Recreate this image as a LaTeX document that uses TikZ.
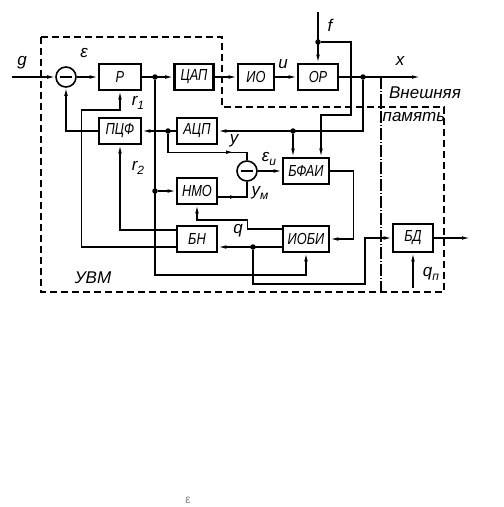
\documentclass[tikz,border=0pt]{standalone}
\usepackage{fontspec}
\setmainfont{Liberation Sans}
\newfontfamily\blockfont{Liberation Sans}[FakeStretch=0.8]
\usetikzlibrary{arrows.meta,decorations.markings}
\newcommand\subidx[1]{\raisebox{-4pt}{\fontsize{12}{12}\selectfont #1}}

\begin{document}
\begin{tikzpicture}[
  x=1pt, y=-1pt,
  >={Latex[length=8pt,width=3.6pt]},
  line width=1.2pt,
  every node/.style={font=\itshape\fontsize{17}{17}\selectfont},
  block/.style={draw, line width=2.6pt, minimum width=40pt, minimum height=26pt, inner sep=1pt,
    font=\blockfont\itshape\fontsize{16}{16}\selectfont},
  summer/.style={draw, circle, line width=1.6pt, minimum size=20pt, inner sep=0pt,
    path picture={\draw[line width=2.6pt] ([xshift=-6pt]path picture bounding box.center) -- ([xshift=6pt]path picture bounding box.center);}},
  junction/.style={circle, fill, inner sep=0pt, minimum size=5.5pt},
  uvmframe/.style={line width=1.3pt, dash pattern=on 7pt off 4pt},
  memline/.style={line width=1.1pt, dash pattern=on 12pt off 2pt on 1pt off 2pt},
  midarrow/.style={postaction={decorate}, decoration={markings, mark=at position #1 with {\arrow{>}}}},
  midarrow/.default=0.5
]
  \useasboundingbox (0,0) rectangle (504,507);

  % frames of the computer and the external memory
  \draw[uvmframe] (41,37) -- (222,37) -- (222,107) -- (444,107) -- (444,292) -- (41,292) -- cycle;
  \draw[memline] (381,77) -- (381,292);

  % blocks
  \node[summer] (c1) at (66,77) {};
  \node[block, minimum width=42pt] (p) at (120,77) {Р};
  \node[block, minimum width=39pt] (dac) at (194,77) {ЦАП};
  \node[block, minimum width=36pt] (io) at (256,77) {ИО};
  \node[block] (op) at (318,77) {ОР};
  \node[block, minimum width=42pt] (pcf) at (120,131) {ПЦФ};
  \node[block, minimum width=40pt] (adc) at (197,131) {АЦП};
  \node[summer] (c2) at (247,171) {};
  \node[block, minimum width=46pt] (bfai) at (306,171) {БФАИ};
  \node[block] (nmo) at (197,191) {НМО};
  \node[block] (bn) at (197,239) {БН};
  \node[block, minimum width=46pt] (iobi) at (306,239) {ИОБИ};
  \node[block, minimum height=28pt] (bd) at (413,238) {БД};

  % branch points and free ends
  \node[junction] (dp) at (155,77) {};
  \node[junction] (df) at (318,42) {};
  \node[junction] (dx) at (363,77) {};
  \node[junction] (dy) at (293,131) {};
  \node[junction] (da) at (168,131) {};
  \node[junction] (dn) at (155,191) {};
  \node[junction] (dq) at (253,247) {};
  \coordinate (gin) at (12,77);
  \coordinate (fin) at (318,12);
  \coordinate (xout) at (420,77);
  \coordinate (qin) at (413,288);
  \coordinate (bdout) at (470,238);

  % forward path
  \draw[->] (gin) -- (c1);
  \draw[->] (c1) -- (p);
  \draw[->] (p) -- (dac);
  \draw[->] (dac) -- (io);
  \draw[->] (io) -- (op);
  \draw[->] (fin) -- (op);
  \draw[->] (op) -- (xout);
  \draw[->] (df) -| ++(33,73) -| ([xshift=15pt]bfai.north);

  % measurement and identification
  \draw[->] (dx) |- (adc);
  \draw[->] (dy) -- (bfai.north -| dy);
  \draw[->] (adc) -- (pcf);
  \draw[->] (pcf) -| (c1);
  \draw[midarrow=0.8] (da) |- ([yshift=8pt]c2.north) -- (c2.north);
  \draw[->] (c2) -- (bfai);
  \draw[midarrow=0.45] ([yshift=-6pt]nmo.east) -| (c2.south);
  \draw[->] (dp) -- ++(0,198) -| (iobi.south);
  \draw[->] (dn) -- (nmo);
  \draw[->] ([yshift=10pt]iobi.west) -| ++(-34,-9) -| (nmo.south);
  \draw[->] ([yshift=-8pt]iobi.west) -- ([yshift=-8pt]bn.east);
  \draw[->] (bfai.east) -- ++(23,0) |- (iobi.east);

  % tuning of the controller and filter
  \draw[->] ([yshift=9pt]bn.west) -| (pcf.south);
  \draw[->] ([yshift=-8pt]bn.west) -| ++(-94,-137) -| (p.south);

  % data bank
  \draw[->] (dq) |- ++(112,37) |- (bd.west);
  \draw[->] (qin) -- (bd);
  \draw[->] (bd) -- (bdout);

  % labels
  \node (lg) at (22,63) {g};
  \node (leps) at (84,53) {ε};
  \node (lu) at (283,64) {u};
  \node (lf) at (330,25) {f};
  \node (lx) at (400,61) {x};
  \node (ly) at (234,141) {y};
  \node (lr1) at (138,103) {r\subidx{1}};
  \node (lr2) at (138,168) {r\subidx{2}};
  \node (lepsi) at (269,159) {ε\subidx{и}};
  \node (lym) at (260,193) {y\subidx{м}};
  \node (lq) at (238,231) {q};
  \node (lqn) at (431,274) {q\subidx{п}};
  \node (luvm) at (93,278) {УВМ};
  \node (lext1) at (425,93) {Внешняя};
  \node (lext2) at (414,117) {память};
  \node[font=\fontsize{12}{12}\selectfont, text=gray] (lmark) at (188,500) {ε};
\end{tikzpicture}
\end{document}
